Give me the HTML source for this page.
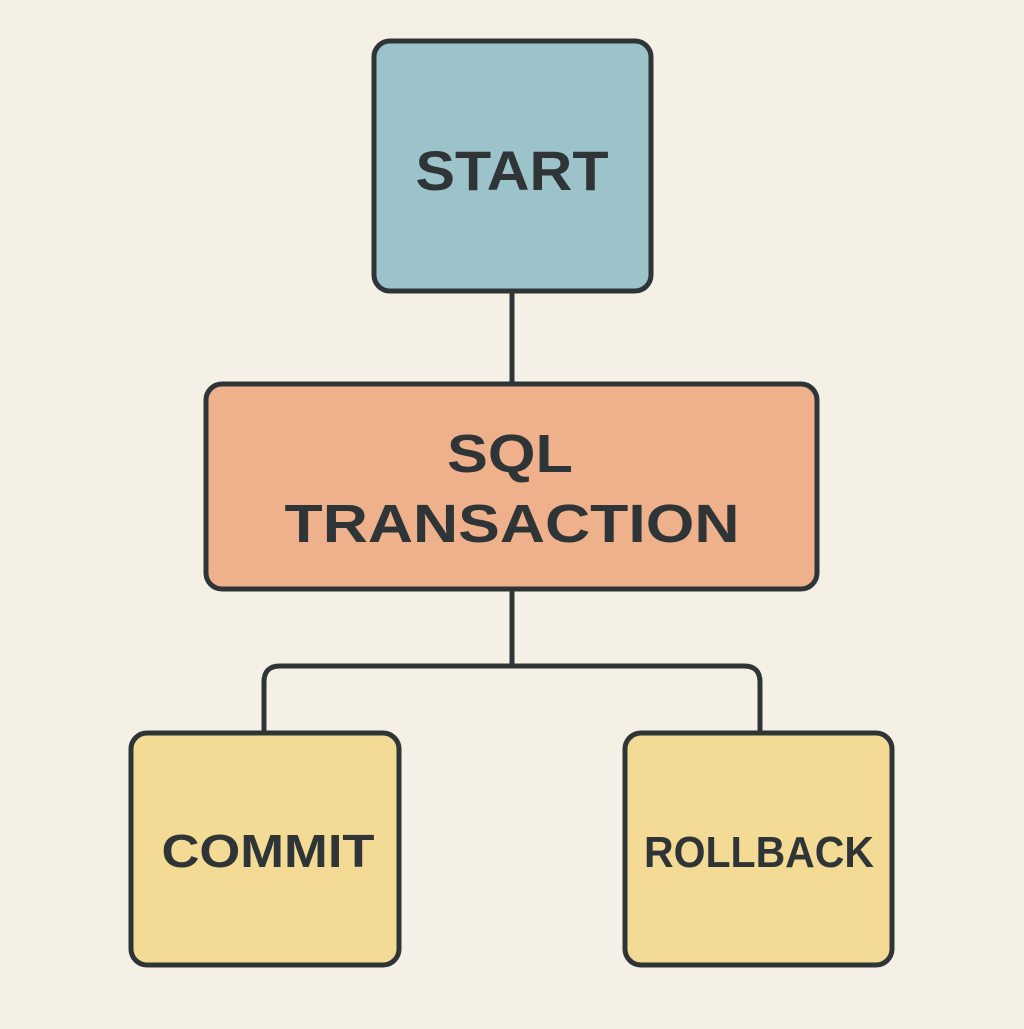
<!DOCTYPE html>
<html><head><meta charset="utf-8"><style>
html,body{margin:0;padding:0;background:#f5f0e6;}
</style></head><body>
<svg width="1024" height="1024" viewBox="0 0 1024 1024" xmlns="http://www.w3.org/2000/svg">
<rect width="1024" height="1024" fill="#f5f0e6"/>
<g stroke="#2f3537" stroke-width="5" fill="none">
<line x1="512" y1="292" x2="512" y2="384"/>
<line x1="512" y1="590" x2="512" y2="666"/>
<path d="M264 733 V682 Q264 666 280 666 H744 Q760 666 760 682 V733"/>
</g>
<g stroke="#2f3537" stroke-width="5">
<rect x="374" y="41" width="277" height="250" rx="16" fill="#9cc3c9"/>
<rect x="206" y="384" width="611" height="205" rx="16" fill="#eeb18c"/>
<rect x="131" y="733" width="268" height="232" rx="16" fill="#f3da95"/>
<rect x="625" y="733" width="267" height="232" rx="16" fill="#f3da95"/>
</g>
<g font-family="Liberation Sans, sans-serif" font-weight="bold" fill="#2f3537" text-anchor="middle">
<text x="512" y="190" font-size="56" textLength="193" lengthAdjust="spacingAndGlyphs">START</text>
<text x="510" y="472" font-size="54" textLength="126" lengthAdjust="spacingAndGlyphs">SQL</text>
<text x="512" y="542" font-size="54" textLength="455" lengthAdjust="spacingAndGlyphs">TRANSACTION</text>
<text x="268" y="867" font-size="46" textLength="213" lengthAdjust="spacingAndGlyphs">COMMIT</text>
<text x="759" y="867" font-size="44" textLength="230" lengthAdjust="spacingAndGlyphs">ROLLBACK</text>
</g>
</svg>
</body></html>
